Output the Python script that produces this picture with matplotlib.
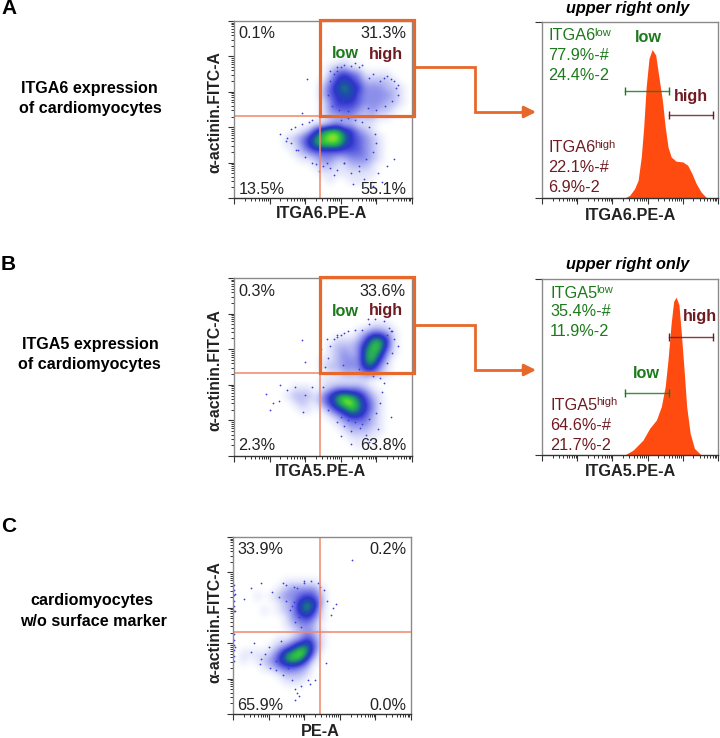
# -*- coding: utf-8 -*-
# flow cytometry figure: three dot plots plus two histograms
import numpy as np
import matplotlib
matplotlib.use("Agg")
import matplotlib.pyplot as plt
from matplotlib.colors import LinearSegmentedColormap
from matplotlib.patches import Rectangle

plt.rcParams["font.family"] = ["Liberation Sans", "DejaVu Sans"]

W, H = 720, 738

GREEN = "#1c7a1c"
DRED = "#6e1c22"
ORANGE = "#e8682c"
QUAD = "#f0866a"
GREY = "#333333"

# density levels 0-9, 25 x 25 cells, top row first
dens_a = [
    "0000000000000000000000000",
    "0000000000000000000000000",
    "0000000000000000000000000",
    "0000000000000000000000000",
    "0000000000000000000000000",
    "0000000000000001000000000",
    "0000000000000122110000000",
    "0000000000000245431111000",
    "0000000000001356542222100",
    "0000000000002467653332210",
    "0000000000002456643333210",
    "0000000000001355543332210",
    "0000000000001344432322100",
    "0000000000001223322211000",
    "0000000000011232211100000",
    "0000000001257886532100000",
    "0000000123578997543210000",
    "0000000113578886543210000",
    "0000000012344444443210000",
    "0000000001123322333210000",
    "0000000000012211222100000",
    "0000000000001111111100000",
    "0000000000000100111000000",
    "0000000000000000000000000",
    "0000000000000000000000000",
]
dens_b = [
    "0000000000000000000000000",
    "0000000000000000000000000",
    "0000000000000000000000000",
    "0000000000000000000000000",
    "0000000000000000000000000",
    "0000000000000000000000000",
    "0000000000000000000111000",
    "0000000000000000012332100",
    "0000000000000011124775100",
    "0000000000000122236885100",
    "0000000000000123237873100",
    "0000000000001123337852000",
    "0000000000001223336631000",
    "0000000000000112223321000",
    "0000000000001111111000000",
    "0000000011101233332100000",
    "0000000122213578764210000",
    "0000000012113579975310000",
    "0000000001101356875310000",
    "0000000000000124554210000",
    "0000000000000012333210000",
    "0000000000000001222110000",
    "0000000000000000111100000",
    "0000000000000000010000000",
    "0000000000000000000000000",
]
dens_c = [
    "0000000000000000000000000",
    "0000000000000000000000000",
    "0000000000000000000000000",
    "0000000000000000000000000",
    "0000000000000000000000000",
    "0000000000000000000000000",
    "0000000111110000000000000",
    "0000001233331000000000000",
    "0001012334542000000000000",
    "0000001236762000000000000",
    "0000101236751000000000000",
    "0000000134531000000000000",
    "0000000123320000000000000",
    "0000000012321000000000000",
    "0000001123531000000000000",
    "0000012357741000000000000",
    "0111124789730000000000000",
    "0101235787410000000000000",
    "0000123443200000000000000",
    "0000001222100000000000000",
    "0000000111000000000000000",
    "0000000000000000000000000",
    "0000000000000000000000000",
    "0000000000000000000000000",
    "0000000000000000000000000",
]

# loose events around the dense clouds (decades on both axes)
dots_ax = [2.05, 1.3, 1.45, 1.6, 1.75, 1.9, 2.7, 2.9, 3.05, 3.5, 3.65, 4.05, 4.3, 4.5, 4.6, 4.62, 3.1, 3.35, 3.9, 4.15,
           2.7, 2.8, 2.9, 3.0, 3.1, 3.3, 3.4, 3.5, 3.6, 3.8, 3.9, 4.1, 4.2, 4.3, 4.4, 4.5, 4.55, 2.65, 2.75, 2.95,
           3.2, 3.75, 4.0, 4.25, 4.45, 1.5, 1.6, 1.7, 1.8, 1.9, 2.0, 2.1, 2.2, 2.3, 2.5, 2.7, 2.9, 3.1, 3.3, 3.5,
           3.7, 3.9, 4.0, 3.95, 3.8, 3.6, 3.4, 3.2, 3.0, 2.8, 2.6, 2.4, 2.2]
dots_ay = [3.35, 1.8, 1.6, 1.95, 1.35, 2.4, 3.6, 3.7, 2.75, 0.75, 0.55, 0.7, 0.9, 1.1, 2.9, 3.2, 1.0, 0.4, 0.35, 0.45,
           3.3, 3.5, 3.6, 3.7, 3.75, 3.72, 3.8, 3.7, 3.75, 3.4, 3.5, 3.3, 3.4, 3.45, 3.35, 3.3, 3.1, 2.9, 2.6, 2.5,
           2.45, 2.55, 2.5, 2.6, 2.75, 1.7, 1.55, 2.0, 1.35, 2.1, 1.15, 2.15, 1.0, 0.95, 0.9, 0.85, 0.8, 1.0, 0.7, 0.9,
           1.1, 1.3, 1.55, 1.8, 2.0, 2.15, 2.2, 2.25, 2.2, 0.65, 1.0, 0.75, 2.2]
dots_bx = [1.9, 1.95, 2.0, 1.0, 1.25, 2.6, 2.45, 2.9, 3.1, 3.4, 3.7, 4.05, 4.4, 4.6, 4.3, 4.45, 3.3, 3.0, 3.8, 3.55,
           2.7, 2.8, 2.9, 3.0, 3.2, 3.4, 3.6, 3.8, 3.75, 3.95, 4.2, 4.35, 4.4, 4.5, 4.45, 4.3, 2.55, 2.65, 3.05, 3.5,
           0.9, 1.1, 1.3, 1.5, 1.7, 2.0, 2.2, 2.5, 2.65, 2.8, 3.0, 3.2, 3.4, 3.6, 3.8, 4.0, 4.1, 4.15, 4.2, 4.1,
           3.9, 3.3, 3.1, 2.9]
dots_by = [3.25, 1.25, 2.65, 1.3, 1.55, 3.3, 3.0, 3.4, 3.45, 0.95, 0.6, 0.75, 1.1, 3.1, 3.4, 3.5, 0.35, 0.55, 0.4, 0.8,
           3.1, 3.3, 3.35, 3.4, 3.5, 3.55, 3.55, 3.7, 3.85, 3.85, 3.8, 3.6, 3.5, 3.3, 2.9, 2.6, 2.5, 2.75, 2.55, 2.45,
           1.75, 1.5, 2.0, 1.85, 1.95, 1.7, 1.95, 1.95, 1.3, 1.55, 1.1, 1.0, 1.2, 0.9, 1.05, 1.2, 1.5, 1.8, 2.05, 2.2,
           2.25, 0.7, 0.85, 0.95]
dots_cx = [0.05, 0.3, 0.5, 0.8, 1.1, 1.4, 1.7, 2.0, 3.35, 1.75, 1.8, 1.75, 2.8, 1.2, 0.9, 0.6, 1.5, 2.6, 0.05, 0.05,
           0.03, 0.03, 0.03, 0.03, 0.03, 0.03, 0.03, 0.03, 0.03, 0.03, 0.03, 0.03,
           1.3, 1.5, 1.7, 1.85, 1.6, 1.8, 2.0, 2.2, 2.4, 2.45, 2.55, 2.65, 0.5, 0.75, 1.0, 1.2, 1.4, 1.55, 1.65, 1.9,
           2.15, 1.85, 2.75, 2.9, 1.65, 1.75, 1.9, 2.1, 2.3, 1.35, 1.05, 0.8]
dots_cy = [2.9, 3.25, 3.55, 3.7, 3.45, 3.7, 3.6, 3.75, 4.35, 0.4, 0.6, 0.7, 3.0, 1.5, 1.7, 2.0, 3.2, 1.43, 1.9, 3.4,
           1.5, 1.65, 1.8, 1.95, 2.1, 2.25, 2.9, 3.05, 3.2, 3.35, 3.5, 3.65,
           3.3, 3.65, 3.15, 2.75, 2.95, 3.55, 3.7, 3.75, 3.7, 3.6, 3.5, 3.2, 1.75, 1.4, 1.9, 1.25, 1.1, 1.3, 0.95, 0.8,
           0.85, 0.5, 2.8, 3.1, 3.05, 2.6, 2.45, 0.95, 0.95, 2.05, 1.3, 1.55]

# histograms, x in decades, y in percent of the frame height
hist_ax = [2.35, 2.49, 2.63, 2.73, 2.82, 2.89, 2.96, 3.04, 3.13, 3.23, 3.32, 3.42, 3.50, 3.58, 3.67, 3.81, 4.00, 4.14, 4.26, 4.38, 4.52, 4.68]
hist_ay = [0, 1.5, 5.3, 10, 23.3, 40.4, 63.2, 79.3, 84.4, 81.2, 68.9, 55.6, 40.4, 29, 23.3, 20.9, 20.5, 18.6, 13.9, 8.2, 3.4, 0]
hist_bx = [2.35, 2.59, 2.87, 3.06, 3.25, 3.39, 3.50, 3.58, 3.67, 3.74, 3.81, 3.89, 3.95, 4.03, 4.11, 4.21, 4.33, 4.52]
hist_by = [0, 2.8, 8.5, 15.2, 19.9, 27.5, 38.9, 54.1, 75, 87.3, 89.7, 85.4, 71.2, 50.3, 27.5, 12.3, 3.8, 0]

# gates: start, stop, height
gate_a_low = [2.35, 3.62, 60.7]
gate_a_high = [3.62, 4.85, 46.9]
gate_b_low = [2.35, 3.62, 35.1]
gate_b_high = [3.62, 4.85, 67.0]

dens_colors = ["#ffffff", "#e2e4fb", "#babdf3", "#8c8fea", "#5c60df", "#3034cc",
               "#1c4fa8", "#1f8f70", "#33c83c", "#b4f01e"]
dens_cmap = LinearSegmentedColormap.from_list("dens", dens_colors)


def ax_px(left, top, right, bottom):
    return fig.add_axes([left / W, 1 - bottom / H, (right - left) / W, (bottom - top) / H])


def log_ticks(axis):
    major = np.arange(0, 6)
    minor = [d + np.log10(m) for d in range(5) for m in range(2, 10)]
    axis.set_ticks(major)
    axis.set_ticks(minor, minor=True)
    axis.set_ticklabels([])


def style_frame(ax):
    ax.set_xlim(0, 5)
    log_ticks(ax.xaxis)
    ax.tick_params(which="major", length=4.5, width=0.8, color=GREY)
    ax.tick_params(which="minor", length=2.4, width=0.7, color=GREY)
    for side in ["top", "left", "right"]:
        ax.spines[side].set_color("#8a8a8a")
        ax.spines[side].set_linewidth(1.0)
    ax.spines["bottom"].set_color(GREY)
    ax.spines["bottom"].set_linewidth(1.0)


def dot_plot(box, dens, xs, ys, qx, qy):
    ax = ax_px(*box)
    grid = np.array([[int(c) for c in row] for row in dens])
    ax.imshow(grid, extent=(0, 5, 0, 5), cmap=dens_cmap, vmin=0, vmax=9,
              interpolation="bicubic", aspect="auto", origin="upper")
    ax.scatter(xs, ys, s=1.6, color="#3a3ed8", linewidths=0)
    ax.axvline(qx, color=QUAD, lw=1.1)
    ax.axhline(qy, color=QUAD, lw=1.1)
    style_frame(ax)
    ax.set_ylim(0, 5)
    log_ticks(ax.yaxis)
    return ax


def histo(box, xs, ys, low, high):
    ax = ax_px(*box)
    ax.fill_between(xs, 0, ys, color="#ff4a10", lw=0)
    for gate, col in [(low, GREEN), (high, DRED)]:
        ax.plot(gate[:2], [gate[2], gate[2]], color=col, lw=1.0, alpha=0.85)
        ax.plot(gate[:2], [gate[2], gate[2]], color=col, ls="", marker="|", ms=6, mew=1.0)
    style_frame(ax)
    ax.set_ylim(0, 100)
    ax.set_yticks([0, 100])
    ax.set_yticklabels([])
    ax.tick_params(axis="y", which="major", length=5)
    return ax


fig = plt.figure(figsize=(W / 100, H / 100), dpi=100)

dot_plot((234, 21, 412, 198), dens_a, dots_ax, dots_ay, 2.42, 2.31)
dot_plot((234, 278, 412, 456), dens_b, dots_bx, dots_by, 2.42, 2.33)
dot_plot((233, 537, 411, 714), dens_c, dots_cx, dots_cy, 2.44, 2.31)
histo((542, 22, 718, 198), hist_ax, hist_ay, gate_a_low, gate_a_high)
histo((542, 279, 718, 455), hist_bx, hist_by, gate_b_low, gate_b_high)

# overlay in pixel coordinates for the labels, gate boxes and arrows
ov = fig.add_axes([0, 0, 1, 1], zorder=10)
ov.set_xlim(0, W)
ov.set_ylim(H, 0)
ov.axis("off")
ov.patch.set_alpha(0)


def txt(x, y, s, size=11.7, color="#222222", ha="left", **kw):
    ov.text(x, y, s, fontsize=size, color=color, ha=ha, va="center", **kw)


def bold(x, y, s, size=11.7, color="#222222", ha="center", **kw):
    txt(x, y, s, size=size, color=color, ha=ha, fontweight="bold", **kw)


for s, y in [("A", 8), ("B", 265), ("C", 526)]:
    bold(1, y, s, size=15, color="black", ha="left")

for s, x, y in [("ITGA6 expression", 89, 89), ("of cardiomyocytes", 90, 109),
                ("ITGA5 expression", 90, 345), ("of cardiomyocytes", 89, 364),
                ("cardiomyocytes", 92, 601), ("w/o surface marker", 93, 621)]:
    bold(x, y, s, size=11.6, color="black")

for y in [112, 370, 622]:
    bold(215, y, "\u03b1-actinin.FITC-A", size=11.3, rotation=90)
for s, x, y in [("ITGA6.PE-A", 322, 214), ("ITGA5.PE-A", 321, 471), ("PE-A", 320, 732),
                ("ITGA6.PE-A", 631, 215), ("ITGA5.PE-A", 631, 471)]:
    bold(x, y, s)

# quadrant percentages
for s, x, y in [("0.1%", 238, 33), ("13.5%", 239, 189), ("0.3%", 238, 291), ("2.3%", 238, 446),
                ("33.9%", 237, 550), ("65.9%", 237, 705)]:
    txt(x, y, s)
for s, y in [("31.3%", 33), ("55.1%", 189), ("33.6%", 291), ("63.8%", 446), ("0.2%", 550), ("0.0%", 705)]:
    txt(406, y, s, ha="right")

for y in [54, 311]:
    bold(345, y, "low", color=GREEN)
    bold(386, y, "high", color=DRED)

for y in [8, 265]:
    bold(628, y, "upper right only", size=11.7, color="black", fontstyle="italic")

# histogram text
for name, x, y, sup, supx, col in [("ITGA6", 548, 36, "low", 594, GREEN), ("ITGA6", 548, 148, "high", 594, DRED),
                                   ("ITGA5", 550, 293, "low", 596, GREEN), ("ITGA5", 550, 405, "high", 596, DRED)]:
    txt(x, y, name, color=col)
    txt(supx, y - 3, sup, size=8, color=col)
for s, x, y, col in [("77.9%-#", 548, 56, GREEN), ("24.4%-2", 548, 75, GREEN),
                     ("22.1%-#", 548, 168, DRED), ("6.9%-2", 548, 188, DRED),
                     ("35.4%-#", 550, 312, GREEN), ("11.9%-2", 550, 332, GREEN),
                     ("64.6%-#", 550, 425, DRED), ("21.7%-2", 550, 445, DRED)]:
    txt(x, y, s, color=col)
bold(648, 37, "low", color=GREEN)
bold(691, 96, "high", color=DRED)
bold(646, 373, "low", color=GREEN)
bold(700, 317, "high", color=DRED)

# orange gate boxes with elbow arrows
for top, bottom, y1, y2 in [(20, 116, 67, 112), (277, 373, 325, 370)]:
    ov.add_patch(Rectangle((320, top), 94, bottom - top, fill=False, ec=ORANGE, lw=2.3))
    ov.plot([414, 475, 475, 525], [y1, y1, y2, y2], color=ORANGE, lw=2.0, solid_joinstyle="miter")
    ov.annotate("", xy=(536, y2), xytext=(522, y2),
                arrowprops=dict(arrowstyle="-|>,head_width=0.35,head_length=0.7", color=ORANGE, lw=2.0,
                                shrinkA=0, shrinkB=0))

fig.savefig("out.png", dpi=100)
